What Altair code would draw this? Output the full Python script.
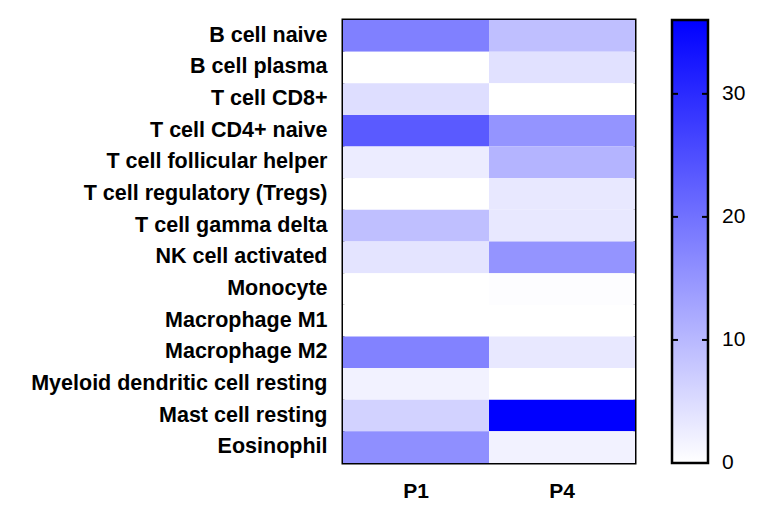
import altair as alt
import pandas as pd

cells = ["B cell naive", "B cell plasma", "T cell CD8+", "T cell CD4+ naive",
         "T cell follicular helper", "T cell regulatory (Tregs)", "T cell gamma delta",
         "NK cell activated", "Monocyte", "Macrophage M1", "Macrophage M2",
         "Myeloid dendritic cell resting", "Mast cell resting", "Eosinophil"]
p1 = [18.0, 0.0, 4.7, 23.3, 2.7, 0.0, 9.0, 3.8, 0.0, 0.0, 17.6, 1.8, 6.4, 15.8]
p4 = [9.0, 4.2, 0.0, 15.1, 10.6, 3.2, 3.2, 15.1, 0.3, 0.0, 3.2, 0.0, 36.0, 1.8]
samples = ["P1", "P4"]
legend_ticks = [10, 20, 30]
legend_labels = [0, 10, 20, 30]
color_domain = [0, 36]

rows = []
for c, a, b in zip(cells, p1, p4):
    rows.append({"cell": c, "sample": "P1", "value": a})
    rows.append({"cell": c, "sample": "P4", "value": b})
df = pd.DataFrame(rows)
ticks_df = pd.DataFrame({"t": legend_ticks})
labels_df = pd.DataFrame({"t": legend_labels})
bar_df = pd.DataFrame({"lo": [color_domain[0]], "hi": [color_domain[1]]})

FONT = "Liberation Sans"
qscale = alt.Scale(domain=color_domain)

heat = alt.Chart(df).mark_rect().encode(
    x=alt.X("sample:N", sort=samples, title=None,
            axis=alt.Axis(labelAngle=0, labelFont=FONT, labelFontWeight="bold",
                          labelFontSize=21, labelColor="black", domain=False,
                          ticks=False, labelPadding=17)),
    y=alt.Y("cell:N", sort=cells, title=None,
            axis=alt.Axis(labelFont=FONT, labelFontWeight="bold", labelFontSize=21.5,
                          labelColor="black", domain=False, ticks=False,
                          labelPadding=16, labelLimit=400)),
    color=alt.Color("value:Q",
                    scale=alt.Scale(domain=color_domain, range=["#ffffff", "#0000ff"],
                                    interpolate="rgb"),
                    legend=None),
)

grad = alt.LinearGradient(
    gradient="linear",
    stops=[alt.GradientStop(color="#ffffff", offset=0),
           alt.GradientStop(color="#0000ff", offset=1)],
    x1=0, x2=0, y1=1, y2=0)

bar = alt.Chart(bar_df).mark_rect(fill=grad, stroke="black", strokeWidth=2.5,
                                  clip=False).encode(
    x=alt.value(329), x2=alt.value(365),
    y=alt.Y("lo:Q", scale=qscale, axis=None),
    y2="hi:Q",
)

tick_l = alt.Chart(ticks_df).mark_rule(color="black", strokeWidth=2, clip=False).encode(
    x=alt.value(329), x2=alt.value(335),
    y=alt.Y("t:Q", scale=qscale, axis=None),
)
tick_r = alt.Chart(ticks_df).mark_rule(color="black", strokeWidth=2, clip=False).encode(
    x=alt.value(359), x2=alt.value(365),
    y=alt.Y("t:Q", scale=qscale, axis=None),
)
labels = alt.Chart(labels_df).mark_text(font=FONT, fontSize=21, color="black",
                                        align="left", baseline="middle",
                                        clip=False).encode(
    x=alt.value(379),
    y=alt.Y("t:Q", scale=qscale, axis=None),
    text="t:Q",
)

chart = alt.layer(heat, bar, tick_l, tick_r, labels).resolve_scale(
    y="independent").properties(
    width=292, height=443,
    autosize=alt.AutoSizeParams(type="none"),
    padding={"left": 335, "top": 12, "right": 114, "bottom": 42},
).configure_view(stroke="black", strokeWidth=3)

chart.save("out.html", embed_options={"renderer": "svg", "actions": False})
